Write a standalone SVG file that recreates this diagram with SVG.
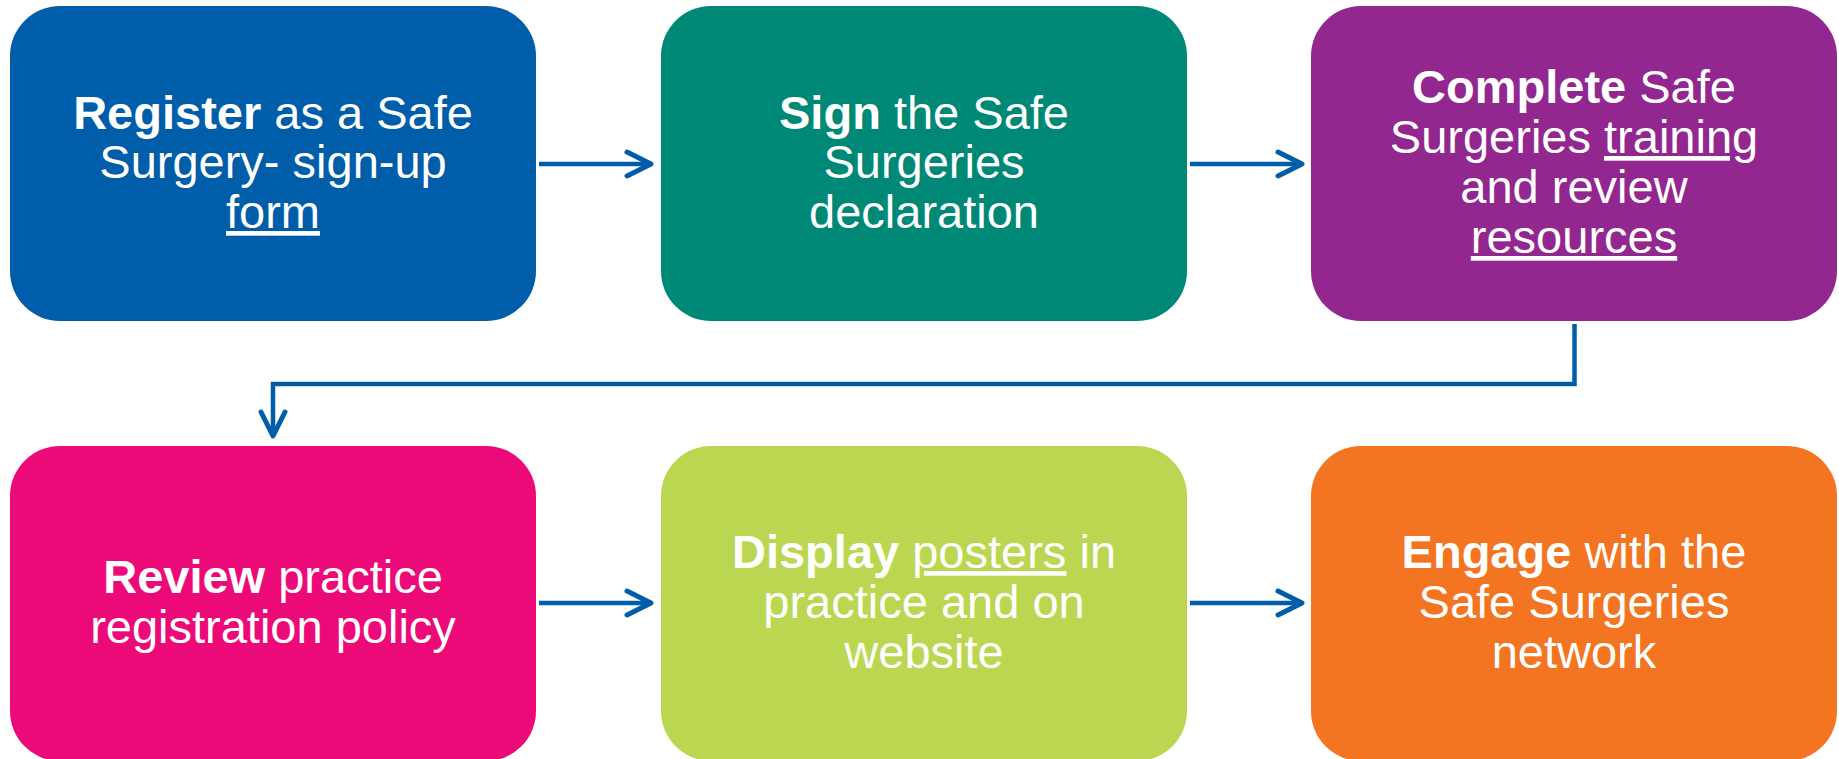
<svg xmlns="http://www.w3.org/2000/svg" width="1839" height="759" viewBox="0 0 1839 759">
  <style>
    .box { stroke: none; }
    .lbl { font-family: "Liberation Sans", Arial, sans-serif; font-size: 47px; fill: #ffffff; text-anchor: middle; }
    .b { font-weight: bold; }
    .u { text-decoration: underline; }
    .conn { fill: none; stroke: #005DAA; stroke-width: 4.5; }
  </style>
  <defs>
    <marker id="chev" markerUnits="userSpaceOnUse" markerWidth="34" markerHeight="34" viewBox="0 0 34 34" refX="28" refY="17" orient="auto" overflow="visible">
      <path d="M4,5 L28,17 L4,29" fill="none" stroke="#005DAA" stroke-width="5" stroke-linecap="round" stroke-linejoin="round"/>
    </marker>
  </defs>
  <rect width="1839" height="759" fill="#ffffff"/>

  <g id="connectors">
    <path class="conn" d="M539,164 L651,164" marker-end="url(#chev)"/>
    <path class="conn" d="M1190,164 L1302,164" marker-end="url(#chev)"/>
    <path class="conn" d="M1574.5,324 L1574.5,384 L273,384 L273,436" stroke-width="5" marker-end="url(#chev)"/>
    <path class="conn" d="M539,603 L651,603" marker-end="url(#chev)"/>
    <path class="conn" d="M1190,603 L1302,603" marker-end="url(#chev)"/>
  </g>

  <g id="node-register">
    <rect class="box" x="10" y="6" width="526" height="315" rx="50" ry="50" fill="#005DA9"/>
    <text class="lbl" x="273" y="129"><tspan class="b">Register</tspan> as a Safe</text>
    <text class="lbl" x="273" y="178">Surgery- sign-up</text>
    <text class="lbl" x="273" y="228"><tspan class="u">form</tspan></text>
  </g>

  <g id="node-sign">
    <rect class="box" x="661" y="6" width="526" height="315" rx="50" ry="50" fill="#008876"/>
    <text class="lbl" x="924" y="129"><tspan class="b">Sign</tspan> the Safe</text>
    <text class="lbl" x="924" y="178">Surgeries</text>
    <text class="lbl" x="924" y="228">declaration</text>
  </g>

  <g id="node-complete">
    <rect class="box" x="1311" y="6" width="526" height="315" rx="50" ry="50" fill="#92278F"/>
    <text class="lbl" x="1574" y="103"><tspan class="b">Complete</tspan> Safe</text>
    <text class="lbl" x="1574" y="153">Surgeries <tspan class="u">training</tspan></text>
    <text class="lbl" x="1574" y="203">and review</text>
    <text class="lbl" x="1574" y="253"><tspan class="u">resources</tspan></text>
  </g>

  <g id="node-review">
    <rect class="box" x="10" y="446" width="526" height="315" rx="50" ry="50" fill="#EC0A79"/>
    <text class="lbl" x="273" y="593"><tspan class="b">Review</tspan> practice</text>
    <text class="lbl" x="273" y="643">registration policy</text>
  </g>

  <g id="node-display">
    <rect class="box" x="661" y="446" width="526" height="315" rx="50" ry="50" fill="#BBD650"/>
    <text class="lbl" x="924" y="568"><tspan class="b">Display</tspan> <tspan class="u">posters</tspan> in</text>
    <text class="lbl" x="924" y="618">practice and on</text>
    <text class="lbl" x="924" y="668">website</text>
  </g>

  <g id="node-engage">
    <rect class="box" x="1311" y="446" width="526" height="315" rx="50" ry="50" fill="#F37421"/>
    <text class="lbl" x="1574" y="568"><tspan class="b">Engage</tspan> with the</text>
    <text class="lbl" x="1574" y="618">Safe Surgeries</text>
    <text class="lbl" x="1574" y="668">network</text>
  </g>
</svg>
